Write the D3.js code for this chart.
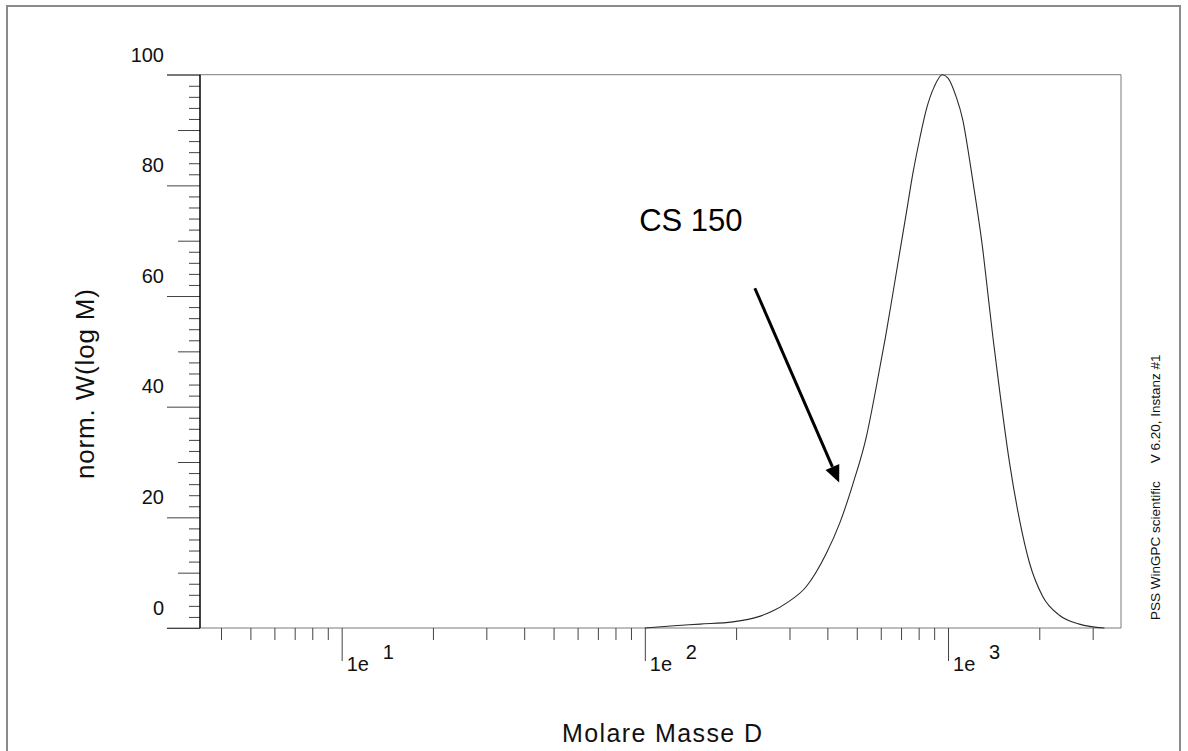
<!DOCTYPE html>
<html>
<head>
<meta charset="utf-8">
<script src="https://cdn.jsdelivr.net/npm/d3@7/dist/d3.min.js"></script>
<style>
  html, body { margin: 0; padding: 0; background: #fff; }
  svg { display: block; font-family: "Liberation Sans", Arial, sans-serif; }
</style>
</head>
<body>
<svg id="chart" width="1188" height="751"></svg>
<script>
// Molar mass distribution, CS 150 (normalised W(log M) vs. molar mass)
const molarMass = [100, 125, 152, 195, 239, 265, 293, 341, 397, 439, 486, 538, 580, 622, 658,
                   692, 728, 766, 805, 847, 900, 957, 1000, 1064, 1119, 1178, 1239, 1303, 1353,
                   1406, 1479, 1596, 1722, 1858, 2053, 2330, 2711, 3280];
const weightFraction = [0, 0.4, 0.7, 1.1, 2.1, 3.1, 4.5, 7.5, 13.5, 18.9, 26.1, 34.6, 43.6, 52.6, 60.5,
                        67.7, 74.9, 82.2, 88.2, 93.6, 97.8, 100, 99.4, 96.0, 91.8, 84.6, 76.8, 68.3, 60.5,
                        52.6, 43.0, 29.8, 19.5, 11.7, 5.7, 2.3, 0.7, 0];

// axis ticks
const yLabelTicks = [0, 20, 40, 60, 80, 100];
const yMidTicks = [10, 30, 50, 70, 90];
const xDecades = [10, 100, 1000];
const xDecadeExponents = ["1", "2", "3"];
const xMinorTicks = [4, 5, 6, 7, 8, 9, 20, 30, 40, 50, 60, 70, 80, 90,
                     200, 300, 400, 500, 600, 700, 800, 900, 2000, 3000];

// annotation
const annotationText = "CS 150";
const annotationAnchor = { M: 95.8, W: 71.8 };
const arrowStart = { M: 230.6, W: 61.4 };
const arrowTip = { M: 437.5, W: 26.3 };

const xTitle = "Molare Masse D";
const yTitle = "norm. W(log M)";
const footer = ["PSS WinGPC scientific", "V 6.20, Instanz #1"];

const svg = d3.select("#chart");
const plot = { left: 200, right: 1121, top: 74.7, bottom: 628 };

const x = d3.scaleLog().domain([3.41, 3720]).range([plot.left, plot.right]);
const y = d3.scaleLinear().domain([0, 100]).range([plot.bottom, plot.top]);

// outer frame
svg.append("rect")
  .attr("x", 7).attr("y", 6).attr("width", 1173).attr("height", 760)
  .attr("fill", "none").attr("stroke", "#8a8a8a").attr("stroke-width", 2);

// top, bottom and right frame lines of the plot
const frame = svg.append("g").attr("stroke", "#7a7a7a").attr("stroke-width", 1).attr("fill", "none");
frame.append("line").attr("x1", 167).attr("x2", plot.right).attr("y1", y(100)).attr("y2", y(100));
frame.append("line").attr("x1", 167).attr("x2", plot.right).attr("y1", y(0)).attr("y2", y(0));
frame.append("line").attr("x1", plot.right).attr("x2", plot.right).attr("y1", y(100)).attr("y2", y(0));

// y axis: minor, mid and major ticks
const yMinor = d3.range(2, 100, 2).filter(v => v % 10 !== 0);
function styleAxis(g) {
  g.select(".domain").remove();
  g.selectAll(".tick line").attr("stroke", "#444").attr("stroke-width", 1);
}
svg.append("g").attr("transform", `translate(${plot.left},0)`)
  .call(d3.axisLeft(y).tickValues(yMinor).tickSize(11).tickFormat(""))
  .call(styleAxis);
svg.append("g").attr("transform", `translate(${plot.left},0)`)
  .call(d3.axisLeft(y).tickValues(yMidTicks).tickSize(22).tickFormat(""))
  .call(styleAxis);
const yMajor = svg.append("g").attr("transform", `translate(${plot.left},0)`)
  .call(d3.axisLeft(y).tickValues(yLabelTicks).tickSize(33).tickPadding(3).tickFormat(d3.format("d")))
  .call(styleAxis);
yMajor.selectAll(".tick text")
  .attr("dy", -13.7)
  .attr("font-size", 20)
  .attr("font-family", "Liberation Sans, Arial, sans-serif")
  .attr("fill", "#111");

// left axis line
svg.append("line")
  .attr("x1", plot.left).attr("x2", plot.left).attr("y1", y(100)).attr("y2", y(0))
  .attr("stroke", "#000").attr("stroke-width", 1.5);

// x axis ticks
svg.append("g").attr("transform", `translate(0,${plot.bottom})`)
  .call(d3.axisBottom(x).tickValues(xMinorTicks).tickSize(12).tickFormat(""))
  .call(styleAxis);
svg.append("g").attr("transform", `translate(0,${plot.bottom})`)
  .call(d3.axisBottom(x).tickValues(xDecades).tickSize(33).tickFormat(""))
  .call(styleAxis);

// decade labels "1e" with raised exponent
const decadeLabels = svg.append("g").attr("font-size", 20).attr("fill", "#111");
xDecades.forEach((v, i) => {
  decadeLabels.append("text").attr("x", x(v) + 5).attr("y", 671).text("1e");
  decadeLabels.append("text").attr("x", x(v) + 41).attr("y", 659).text(xDecadeExponents[i]);
});

// distribution curve
const points = molarMass.map((m, i) => ({ M: m, W: weightFraction[i] }));
svg.append("path")
  .datum(points)
  .attr("fill", "none")
  .attr("stroke", "#2a2a2a")
  .attr("stroke-width", 1.1)
  .attr("d", d3.line().x(d => x(d.M)).y(d => y(d.W)).curve(d3.curveMonotoneX));

// annotation label and arrow
svg.append("text")
  .attr("x", x(annotationAnchor.M)).attr("y", y(annotationAnchor.W))
  .attr("font-size", 31).attr("fill", "#000")
  .text(annotationText);

const sx = x(arrowStart.M), sy = y(arrowStart.W);
const tx = x(arrowTip.M), ty = y(arrowTip.W);
const ang = Math.atan2(ty - sy, tx - sx);
const headLen = 17, headHalf = 7.5;
const bx = tx - headLen * Math.cos(ang), by = ty - headLen * Math.sin(ang);
svg.append("line")
  .attr("x1", sx).attr("y1", sy).attr("x2", bx).attr("y2", by)
  .attr("stroke", "#000").attr("stroke-width", 3);
svg.append("polygon")
  .attr("points", [
    [tx, ty],
    [bx + headHalf * Math.sin(ang), by - headHalf * Math.cos(ang)],
    [bx - headHalf * Math.sin(ang), by + headHalf * Math.cos(ang)]
  ].map(p => p.join(",")).join(" "))
  .attr("fill", "#000");

// axis titles
svg.append("text")
  .attr("x", 662).attr("y", 742)
  .attr("text-anchor", "middle")
  .attr("font-size", 25).attr("fill", "#111")
  .attr("textLength", 200).attr("lengthAdjust", "spacing")
  .text(xTitle);

svg.append("text")
  .attr("transform", "translate(94,384) rotate(-90)")
  .attr("text-anchor", "middle")
  .attr("font-size", 26).attr("fill", "#111")
  .attr("textLength", 190).attr("lengthAdjust", "spacing")
  .text(yTitle);

// software footer along the right edge
const foot = svg.append("text")
  .attr("transform", "translate(1160,620) rotate(-90)")
  .attr("font-size", 13.5).attr("fill", "#111");
foot.append("tspan").attr("x", 0).text(footer[0]);
foot.append("tspan").attr("dx", 18).text(footer[1]);
</script>
</body>
</html>
